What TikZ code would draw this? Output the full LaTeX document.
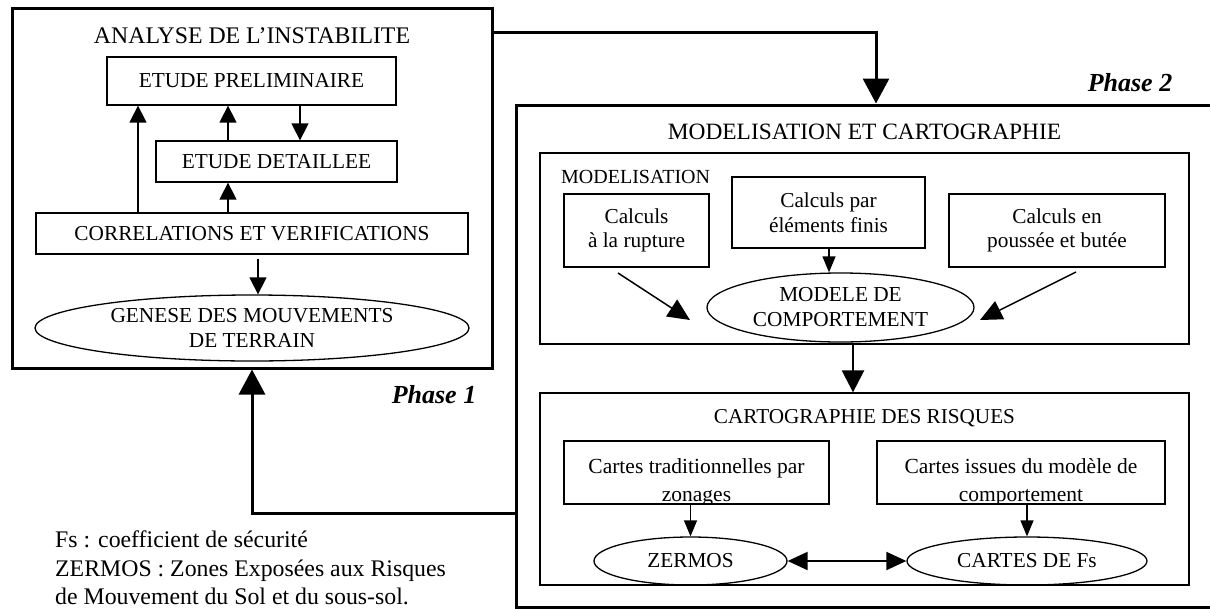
\documentclass[tikz,border=0pt]{standalone}
\usepackage{fontspec}
\setmainfont{Liberation Serif}
\usetikzlibrary{arrows.meta,shapes.geometric}
\newcommand\setsize[2]{\fontsize{#1pt}{#2pt}\selectfont}

\begin{document}
\begin{tikzpicture}[x=1pt,y=-1pt,
  frame/.style={draw,line width=3pt,inner sep=0pt},
  panel/.style={draw,line width=1.3pt,inner sep=0pt},
  box/.style={draw,line width=1.3pt,inner sep=0pt,align=center,font=\setsize{21.3}{24.5}},
  oval/.style={draw,ellipse,line width=1.3pt,inner sep=0pt,align=center,font=\setsize{21.3}{25}},
  boxtext/.style={inner sep=0pt,align=center,anchor=north,font=\setsize{21.5}{28}},
  phase/.style={font=\bfseries\itshape\setsize{26}{30},anchor=base},
  thk/.style={line width=3pt,-{Triangle[length=25pt,width=26pt]}},
  arL/.style={line width=1.5pt,-{Triangle[length=17pt,width=17pt]}},
  arS/.style={line width=1.3pt,-{Triangle[length=16pt,width=13pt]}},
  arM/.style={line width=1.5pt,-{Triangle[length=22pt,width=20pt]}},
  arB/.style={line width=2.5pt,-{Triangle[length=22pt,width=22pt]}},
  arD/.style={line width=2pt,{Triangle[length=20pt,width=18pt]}-{Triangle[length=20pt,width=18pt]}}
]
\useasboundingbox (0,0) rectangle (1210,608);
\clip (0,0) rectangle (1210,608);

% ---------- Phase 1 : analyse de l'instabilite ----------
\node[frame,minimum width=480pt,minimum height=360pt] (ph1) at (252,188) {};
\node[font=\setsize{23.8}{27},anchor=base] (t1) at (252,43) {ANALYSE DE L’INSTABILITE};
\node[box,minimum width=289pt,minimum height=48pt] (prelim) at (251.5,81) {ETUDE PRELIMINAIRE};
\node[box,minimum width=241pt,minimum height=41pt] (detail) at (276.5,161.5) {ETUDE DETAILLEE};
\node[box,minimum width=432pt,minimum height=41pt] (correl) at (252,233.5) {CORRELATIONS ET VERIFICATIONS};
\node[oval,minimum width=434pt,minimum height=66pt] (genese) at (252,328) {GENESE DES MOUVEMENTS\\DE TERRAIN};

\coordinate (cA) at (138,0);
\coordinate (cB) at (228,0);
\coordinate (cC) at (300,0);
\coordinate (cD) at (258,0);
\draw[arL] (correl.north -| cA) -- (prelim.south -| cA);
\draw[arL] (detail.north -| cB) -- (prelim.south -| cB);
\draw[arL] (prelim.south -| cC) -- (detail.north -| cC);
\draw[arL] (correl.north -| cB) -- (detail.south -| cB);
\draw[arL] ([yshift=-4pt]correl.south -| cD) -- (genese.north -| cD);

\node[phase] (p1) at (434,403) {Phase 1};

% ---------- Phase 2 : modelisation et cartographie ----------
\node[frame,minimum width=714pt,minimum height=502pt] (big) at (873,356) {};
\node[phase] (p2) at (1130,91) {Phase 2};
\node[font=\setsize{23.4}{27},anchor=base] (t2) at (864.5,139) {MODELISATION ET CARTOGRAPHIE};

% modelisation panel
\node[panel,minimum width=649pt,minimum height=191pt] (modbox) at (864.5,248.5) {};
\node[font=\setsize{20}{23},anchor=base west,inner sep=0pt] (modlbl) at (561,183) {MODELISATION};
\node[box,minimum width=145pt,minimum height=73pt] (rupture) at (636.5,230.5) {Calculs\\à la rupture};
\node[box,minimum width=193pt,minimum height=71pt] (finis) at (828.5,212.5) {Calculs par\\éléments finis};
\node[box,minimum width=216pt,minimum height=73pt] (poussee) at (1057,230.5) {Calculs en\\poussée et butée};
\node[oval,minimum width=267pt,minimum height=69pt] (modele) at (840.5,307.5) {MODELE DE\\COMPORTEMENT};

\coordinate (cE) at (829,0);
\draw[arS] (finis.south -| cE) -- (modele.north -| cE);
\coordinate (r1) at (618,273);
\coordinate (r2) at (690,320);
\coordinate (q1) at (1076,272);
\coordinate (q2) at (980,320);
\draw[arM] (r1) -- (r2);
\draw[arM] (q1) -- (q2);

% cartographie panel
\node[panel,minimum width=649pt,minimum height=192pt] (carto) at (864.5,489) {};
\node[font=\setsize{21.2}{24},anchor=base] (t3) at (864.5,423) {CARTOGRAPHIE DES RISQUES};
\coordinate (cF) at (853,0);
\draw[arB] (modbox.south -| cF) -- (carto.north -| cF);

% map boxes: the second line runs into the lower border and is cut there
\node[box,minimum width=265pt,minimum height=63pt] (trad) at (696.5,472.5) {};
\node[box,minimum width=288pt,minimum height=63pt] (issues) at (1021,472.5) {};
\begin{scope}
  \clip (trad.south west) rectangle (trad.north east);
  \node[boxtext] (tradtxt) at (696.5,458.3) {Cartes traditionnelles par\\zonages};
\end{scope}
\begin{scope}
  \clip (issues.south west) rectangle (issues.north east);
  \node[boxtext] (issuestxt) at (1021,458.3) {Cartes issues du modèle de\\comportement};
\end{scope}
\node[oval,minimum width=193pt,minimum height=48pt] (zermos) at (690.5,561) {ZERMOS};
\node[oval,minimum width=240pt,minimum height=48pt] (cartesfs) at (1027,561) {CARTES DE Fs};

\draw[arS] (trad.south -| zermos.north) -- (zermos.north);
\draw[arS] (issues.south -| cartesfs.north) -- (cartesfs.north);
\draw[arD] (zermos) -- (cartesfs);

% ---------- links between the two phases ----------
\coordinate (tc) at (876,32);
\draw[thk] (ph1.east |- tc) -- (tc) -- (big.north -| tc);
\coordinate (fb) at (252,513);
\draw[thk] (big.west |- fb) -- (fb) -- (ph1.south);

% ---------- notes ----------
\node[font=\setsize{23.8}{28},anchor=base west,inner sep=0pt] (n1) at (55,547) {Fs : coefficient de sécurité};
\node[font=\setsize{23.8}{28},anchor=base west,inner sep=0pt] (n2) at (55,576) {ZERMOS : Zones Exposées aux Risques};
\node[font=\setsize{23.8}{28},anchor=base west,inner sep=0pt] (n3) at (55,604) {de Mouvement du Sol et du sous-sol.};
\end{tikzpicture}
\end{document}
